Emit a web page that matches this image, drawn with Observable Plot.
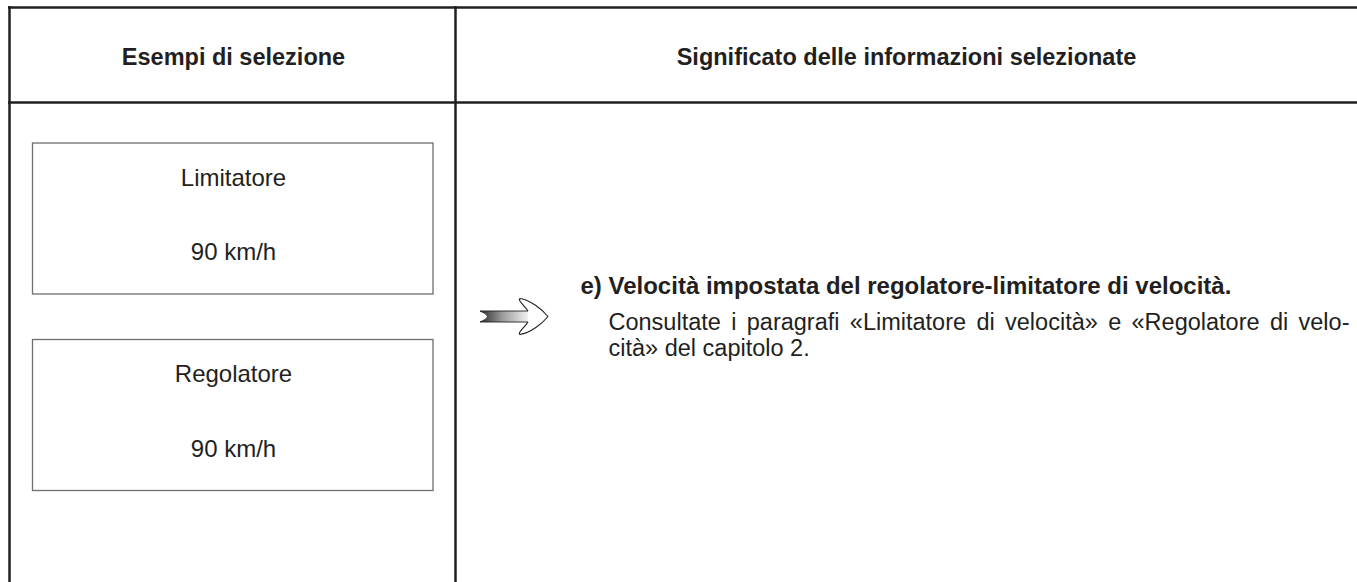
<!DOCTYPE html>
<html><head><meta charset="utf-8">
<script src="https://cdn.jsdelivr.net/npm/d3@7"></script>
<script src="https://cdn.jsdelivr.net/npm/@observablehq/plot@0.6"></script>
<style>html,body{margin:0;padding:0;background:#fff}svg{display:block}</style>
</head><body><div id="chart"></div>
<script>
// ---- content ----
const columnHeaders = ["Esempi di selezione", "Significato delle informazioni selezionate"];
const exampleLabels = ["Limitatore", "Regolatore"];
const exampleValues = ["90 km/h", "90 km/h"];
const itemTitle = ["e) Velocità impostata del regolatore-limitatore di velocità."];
const itemBodyLines = ["Consultate i paragrafi «Limitatore di velocità» e «Regolatore di velo-", "cità» del capitolo 2."];

// ---- layout ----
const W = 1357, H = 582;
const ink = "#231f20";
const font = "'Liberation Sans', Arial, Helvetica, sans-serif";
const colCenters = [233, 906];
const boxTop = [143, 339.5], boxBottom = [294, 490.5];
const labelY = [178, 374], valueY = [252, 449];
const fs = 24, bodyFs = 23.5;

const arrowMark = (index, scales) => {
  const x = scales.x, y = scales.y;
  const g = d3.create("svg:g");
  const grad = g.append("defs").append("linearGradient").attr("id", "shaftGrad")
    .attr("x1", "0%").attr("x2", "100%").attr("y1", "0%").attr("y2", "0%");
  grad.append("stop").attr("offset", "0%").attr("stop-color", "#2a2a2a");
  grad.append("stop").attr("offset", "45%").attr("stop-color", "#9a9a9a");
  grad.append("stop").attr("offset", "100%").attr("stop-color", "#f4f4f4");
  const p = (a, b) => `${x(a)},${y(b)}`;
  g.append("path")
    .attr("d", `M${p(480,311)} L${p(529,311)} L${p(529,322)} L${p(480,322)} Q${p(495,316.5)} ${p(480,311)} Z`)
    .attr("fill", "url(#shaftGrad)").attr("stroke", ink).attr("stroke-width", 0.9);
  g.append("path")
    .attr("d", `M${p(528,311)} C${p(525,306)} ${p(517,300)} ${p(520,298.5)} C${p(530,300)} ${p(542,309)} ${p(548,316.5)} C${p(542,324)} ${p(530,333)} ${p(520,334.5)} C${p(517,333)} ${p(525,327)} ${p(528,322)}`)
    .attr("fill", "#fff").attr("stroke", ink).attr("stroke-width", 1.1);
  return g.node();
};

const chart = Plot.plot({
  width: W, height: H, margin: 0,
  x: {domain: [0, W], range: [0, W], axis: null},
  y: {domain: [0, H], range: [0, H], axis: null},
  style: {fontFamily: font, background: "#fff", color: ink},
  marks: [
    Plot.ruleY([7, 102], {y: d => d, x1: 8, x2: W, stroke: ink, strokeWidth: 2.5}),
    Plot.ruleX([9, 455], {x: d => d, y1: 6, y2: H, stroke: ink, strokeWidth: 2.5}),
    Plot.rect([0, 1], {x1: 32.5, x2: 433, y1: i => boxTop[i], y2: i => boxBottom[i], fill: "none", stroke: "#6d6e71", strokeWidth: 1.3}),
    Plot.text(columnHeaders, {x: (d, i) => colCenters[i], y: 57, text: d => d, fontWeight: "bold", fontSize: 23.5, fill: ink}),
    Plot.text(exampleLabels, {x: 233, y: (d, i) => labelY[i], text: d => d, fontSize: fs, fill: ink}),
    Plot.text(exampleValues, {x: 233, y: (d, i) => valueY[i], text: d => d, fontSize: fs, fill: ink}),
    arrowMark,
    Plot.text(itemTitle, {x: 580, y: 286, text: d => d, textAnchor: "start", fontWeight: "bold", fontSize: fs, fill: ink}),
    Plot.text([itemBodyLines.join("\n")], {x: 608, y: 310.2, text: d => d, textAnchor: "start", lineAnchor: "top", lineHeight: 26.5 / bodyFs, fontSize: bodyFs, fill: ink, className: "justify"})
  ]
});
document.getElementById("chart").append(chart);
// justify the first body line to the column's right edge
const jt = chart.querySelector("g.justify text tspan") || chart.querySelector("g.justify text");
if (jt) {
  const target = 1349 - 608;
  const natural = jt.getComputedTextLength();
  const spaces = (jt.textContent.match(/ /g) || []).length;
  if (spaces && target > natural) jt.setAttribute("word-spacing", ((target - natural) / spaces).toFixed(2));
}
</script></body></html>
